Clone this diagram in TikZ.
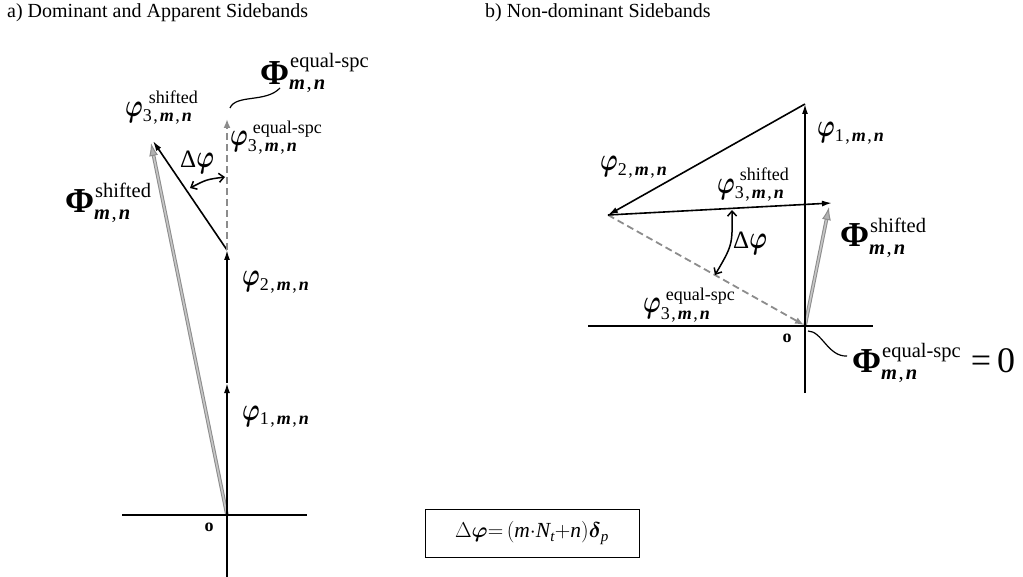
\RequirePackage{fix-cm}
\documentclass[tikz,border=0pt]{standalone}
\usepackage{amsmath}
\usepackage{graphicx}
\usepackage{fontspec}
\setmainfont{Liberation Serif}
\usetikzlibrary{arrows.meta}
\newcommand{\myphi}{{\fontsize{28}{28}\selectfont\scalebox{0.85}[1.15]{$\boldsymbol{\varphi}$}}}
\newcommand{\bigPhi}{{\fontsize{35}{35}\selectfont\bfseries Φ}}
\newcommand{\mnsub}{\kern1.5pt,\kern2pt\textbf{\textit{m}}\kern1.5pt,\kern2pt\textbf{\textit{n}}}
\newcommand{\mnonly}{\textbf{\textit{m}}\kern1.5pt,\kern2pt\textbf{\textit{n}}}
\newcommand{\supsub}[5]{{\fontsize{#1}{#1}\selectfont
  \setbox0=\hbox{\raisebox{#2}{#4}}%
  \setbox2=\hbox{\raisebox{-#3}{#5}}%
  \ifdim\wd0>\wd2 \rlap{\box2}\box0 \else\rlap{\box0}\box2 \fi}}
\begin{document}
\begin{tikzpicture}[x=1pt,y=-1pt,
  vec/.style={line width=1.6pt,-{Latex[length=10pt,width=6pt]}},
  axis/.style={line width=1.2pt},
  eqspc/.style={draw=gray!90,line width=1.8pt,dash pattern=on 7pt off 4pt,-{Latex[length=9pt,width=7pt,fill=gray!90]}},
  shf/.style={draw=gray!90,double=gray!45,line width=1pt,double distance=1.6pt,-{Latex[length=13pt,width=9pt,fill=gray!60,color=gray!90]}},
  dang/.style={line width=1.5pt,{Straight Barb[length=5pt,width=9pt]}-{Straight Barb[length=5pt,width=9pt]}},
  squig/.style={line width=1.2pt},
  lab/.style={anchor=base west,inner sep=0pt},
]
\useasboundingbox (0,0) rectangle (1023,577);

% titles
\node[lab] (ta) at (7,18) {\fontsize{20}{24}\selectfont a) Dominant and Apparent Sidebands};
\node[lab] (tb) at (485,18) {\fontsize{20}{24}\selectfont b) Non-dominant Sidebands};

% ---------------- panel a ----------------
\coordinate (Oa) at (227,515);
\coordinate (axLa) at (122,515);
\coordinate (axRa) at (307,515);
\coordinate (axBa) at (227,577);
\coordinate (A1) at (227,383);
\coordinate (A2) at (227,250);
\coordinate (A3s) at (153,141);
\coordinate (A3g) at (151,143);
\coordinate (A3e) at (227,119);
\coordinate (da1) at (190,188);
\coordinate (dac) at (206.5,179.5);
\coordinate (da2) at (225,177);
\coordinate (sqa1) at (230,108);
\coordinate (sqa1c) at (236,94);
\coordinate (sqa2c) at (266,103);
\coordinate (sqa2) at (280,88);

\draw[shf] (Oa) -- (A3g);
\draw[axis] (axLa) -- (axRa);
\draw[axis] (axBa) -- (Oa);
\draw[vec] (Oa) -- (A1);
\draw[vec] (A1) -- (A2);
\draw[vec] (A2) -- (A3s);
\draw[eqspc] (A2) -- (A3e);
\draw[dang] (da1) .. controls (dac) .. (da2);
\draw[squig] (sqa1) .. controls (sqa1c) and (sqa2c) .. (sqa2);

\node[lab] (la3s) at (125,117) {\myphi\supsub{18}{13pt}{5pt}{\kern6pt shifted}{3\mnsub}};
\node[lab] (la3e) at (230,146) {\myphi\supsub{18}{12pt}{6pt}{\kern5pt equal-spc}{3\mnsub}};
\node[lab] (la2) at (242,286) {\myphi\supsub{18}{13pt}{5pt}{}{2\mnsub}};
\node[lab] (la1) at (242,420) {\myphi\supsub{18}{13pt}{5pt}{}{1\mnsub}};
\node[lab] (lPsa) at (65,213) {\bigPhi\supsub{20.5}{15pt}{7pt}{\kern1pt shifted}{\mnonly}};
\node[lab] (lPea) at (260,85) {\bigPhi\supsub{20.5}{17pt}{5pt}{\kern1pt equal-spc}{\mnonly}};
\node[lab] (ldpa) at (180,168) {{\fontsize{25}{25}\selectfont Δ}\myphi};
\node[inner sep=0pt] (oa) at (209,527) {\fontsize{18}{18}\selectfont\bfseries o};

% ---------------- panel b ----------------
\coordinate (Ob) at (805,326);
\coordinate (axLb) at (588,326);
\coordinate (axRb) at (873,326);
\coordinate (axBb) at (805,393);
\coordinate (B1) at (805,104);
\coordinate (B2) at (608,215);
\coordinate (B3s) at (832,203);
\coordinate (B3g) at (829,207);
\coordinate (Bend) at (804,325);
\coordinate (db1) at (732,210);
\coordinate (dbc) at (732.5,245);
\coordinate (db2) at (715,275);
\coordinate (sqb1) at (808,331);
\coordinate (sqb1c) at (822,331);
\coordinate (sqb2c) at (828,357);
\coordinate (sqb2) at (847,356);

\draw[shf] (Ob) -- (B3g);
\draw[axis] (axLb) -- (axRb);
\draw[axis] (axBb) -- (Ob);
\draw[eqspc] (B2) -- (Bend);
\draw[vec] (Ob) -- (B1);
\draw[vec] (B1) -- (B2);
\draw[vec] (B2) -- (B3s);
\draw[dang] (db1) .. controls (dbc) .. (db2);
\draw[squig] (sqb1) .. controls (sqb1c) and (sqb2c) .. (sqb2);

\node[lab] (lb1) at (817,137) {\myphi\supsub{18}{13pt}{5pt}{}{1\mnsub}};
\node[lab] (lb2) at (600,171) {\myphi\supsub{18}{13pt}{5pt}{}{2\mnsub}};
\node[lab] (lb3s) at (717,194) {\myphi\supsub{18}{13pt}{5pt}{\kern5pt shifted}{3\mnsub}};
\node[lab] (lb3e) at (643,313) {\myphi\supsub{18}{12pt}{6pt}{\kern5pt equal-spc}{3\mnsub}};
\node[lab] (lPsb) at (840,247) {\bigPhi\supsub{20.5}{14pt}{8pt}{\kern1pt shifted}{\mnonly}};
\node[lab] (lPeb) at (852,372) {\bigPhi\supsub{20.5}{15pt}{7pt}{\kern1pt equal-spc}{\mnonly}{\fontsize{36}{36}\selectfont\kern10pt=\kern6pt0}};
\node[lab] (ldpb) at (733,249) {{\fontsize{25}{25}\selectfont Δ}\myphi};
\node[inner sep=0pt] (ob) at (787,338) {\fontsize{18}{18}\selectfont\bfseries o};

% formula box
\node[draw,line width=1pt,minimum width=214pt,minimum height=48pt,inner sep=0pt] (eqbox) at (532,533)
  {\fontsize{21.5}{24}\selectfont $\Delta\boldsymbol{\varphi}{=}\,(\textit{m}{\cdot}\textit{N}_{\textit{t}}{+}\textit{n})\boldsymbol{\delta}_{\textit{p}}$};
\end{tikzpicture}
\end{document}
